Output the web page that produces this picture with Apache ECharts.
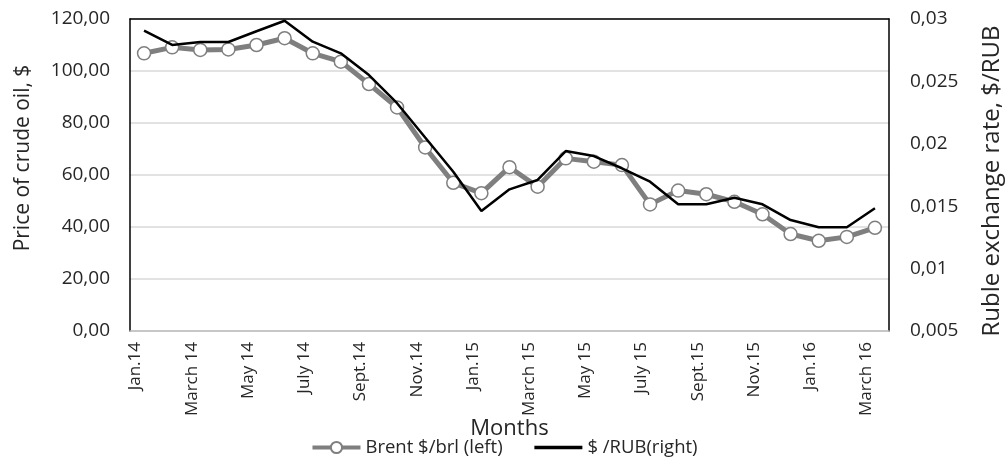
<!DOCTYPE html>
<html>
<head>
<meta charset="utf-8">
<script src="https://cdn.jsdelivr.net/npm/echarts@6/dist/echarts.min.js"></script>
<style>
  html, body { margin: 0; padding: 0; background: #fff; }
  #chart { width: 1008px; height: 471px; }
</style>
</head>
<body>
<div id="chart"></div>
<script>
var months = [
  'Jan.14', 'Feb.14', 'March 14', 'April 14', 'May 14', 'June 14', 'July 14', 'Aug.14', 'Sept.14', 'Oct.14', 'Nov.14', 'Dec.14',
  'Jan.15', 'Feb.15', 'March 15', 'April 15', 'May 15', 'June 15', 'July 15', 'Aug.15', 'Sept.15', 'Oct.15', 'Nov.15', 'Dec.15',
  'Jan.16', 'Feb.16', 'March 16'
]
var brent = [
  106.8, 109.1, 108.1, 108.3, 110.0, 112.6, 106.8, 103.6, 95.0, 86.0, 70.6, 57.0,
  53.0, 63.0, 55.5, 66.4, 65.1, 63.8, 48.7, 54.0, 52.6, 49.7, 44.9, 37.3,
  34.7, 36.2, 39.7
]
var rub = [
  0.02906, 0.02792, 0.02816, 0.02816, 0.02902, 0.02986, 0.02818, 0.02725, 0.02551, 0.02325, 0.0205, 0.01776,
  0.01462, 0.01635, 0.0171, 0.01942, 0.01902, 0.01804, 0.01696, 0.01515, 0.01515, 0.01568, 0.01515, 0.01389,
  0.01331, 0.01331, 0.01483
]
var leftTickLabels = ['0,00', '20,00', '40,00', '60,00', '80,00', '100,00', '120,00']
var rightTickLabels = ['0,005', '0,01', '0,015', '0,02', '0,025', '0,03']

var textColor = '#262626'
var chart = echarts.init(document.getElementById('chart'))
chart.setOption({
  animation: false,
  textStyle: { fontFamily: 'Open Sans', color: textColor },
  grid: { left: 130, right: 119, top: 19, bottom: 140, outerBoundsMode: 'none', containLabel: false },
  legend: {
    bottom: 9,
    left: 'center',
    itemWidth: 48,
    itemHeight: 14,
    itemGap: 30,
    textStyle: { fontSize: 18.5, color: textColor },
    data: [
      { name: 'Brent $/brl (left)', lineStyle: { width: 4 } },
      { name: '$ /RUB(right)', lineStyle: { width: 3.5 }, itemStyle: { opacity: 0 } }
    ]
  },
  xAxis: [
    {
      type: 'category',
      data: months,
      boundaryGap: true,
      name: 'Months',
      nameLocation: 'middle',
      nameGap: 87,
      nameMoveOverlap: false,
      nameTextStyle: { fontSize: 22, color: textColor },
      axisLine: { lineStyle: { color: '#bfbfbf', width: 1.5 } },
      axisTick: { interval: 1, length: 5, lineStyle: { color: '#bfbfbf' } },
      axisLabel: {
        interval: 1,
        rotate: 90,
        margin: 11,
        fontSize: 17,
        color: textColor,
        verticalAlign: 'bottom'
      },
      splitLine: { show: false }
    },
    {
      type: 'category',
      data: months,
      position: 'top',
      axisLine: { lineStyle: { color: '#000', width: 1.5 } },
      axisTick: { show: false },
      axisLabel: { show: false }
    }
  ],
  yAxis: [
    {
      type: 'value',
      min: 0,
      max: 120,
      interval: 20,
      name: 'Price of crude oil, $',
      nameLocation: 'middle',
      nameGap: 96,
      nameRotate: 90,
      nameMoveOverlap: false,
      nameTextStyle: { fontSize: 21, color: textColor, padding: [0, 0, 0, 34] },
      axisLine: { show: true, lineStyle: { color: '#000', width: 1.5 } },
      axisTick: { show: false },
      axisLabel: {
        fontSize: 19,
        margin: 20,
        color: textColor,
        formatter: function (v, i) { return leftTickLabels[i] }
      },
      splitLine: { lineStyle: { color: '#d9d9d9', width: 1.5 } }
    },
    {
      type: 'value',
      position: 'right',
      min: 0.005,
      max: 0.03,
      interval: 0.005,
      name: 'Ruble exchange rate, $/RUB',
      nameLocation: 'middle',
      nameGap: 91,
      nameRotate: 90,
      nameMoveOverlap: false,
      nameTextStyle: { fontSize: 24, color: textColor, padding: [0, 12, 0, 0] },
      axisLine: { show: true, lineStyle: { color: '#000', width: 1.5 } },
      axisTick: { show: false },
      axisLabel: {
        fontSize: 19,
        margin: 21,
        color: textColor,
        formatter: function (v, i) { return rightTickLabels[i] }
      },
      splitLine: { show: false }
    }
  ],
  series: [
    {
      name: 'Brent $/brl (left)',
      type: 'line',
      yAxisIndex: 0,
      data: brent,
      symbol: 'circle',
      symbolSize: 13,
      lineStyle: { color: '#7f7f7f', width: 5 },
      itemStyle: { color: '#fff', borderColor: '#7f7f7f', borderWidth: 1.5 },
      z: 2
    },
    {
      name: '$ /RUB(right)',
      type: 'line',
      yAxisIndex: 1,
      data: rub,
      symbol: 'none',
      lineStyle: { color: '#000', width: 2.5 },
      itemStyle: { color: '#000' },
      z: 3
    }
  ]
})
</script>
</body>
</html>
